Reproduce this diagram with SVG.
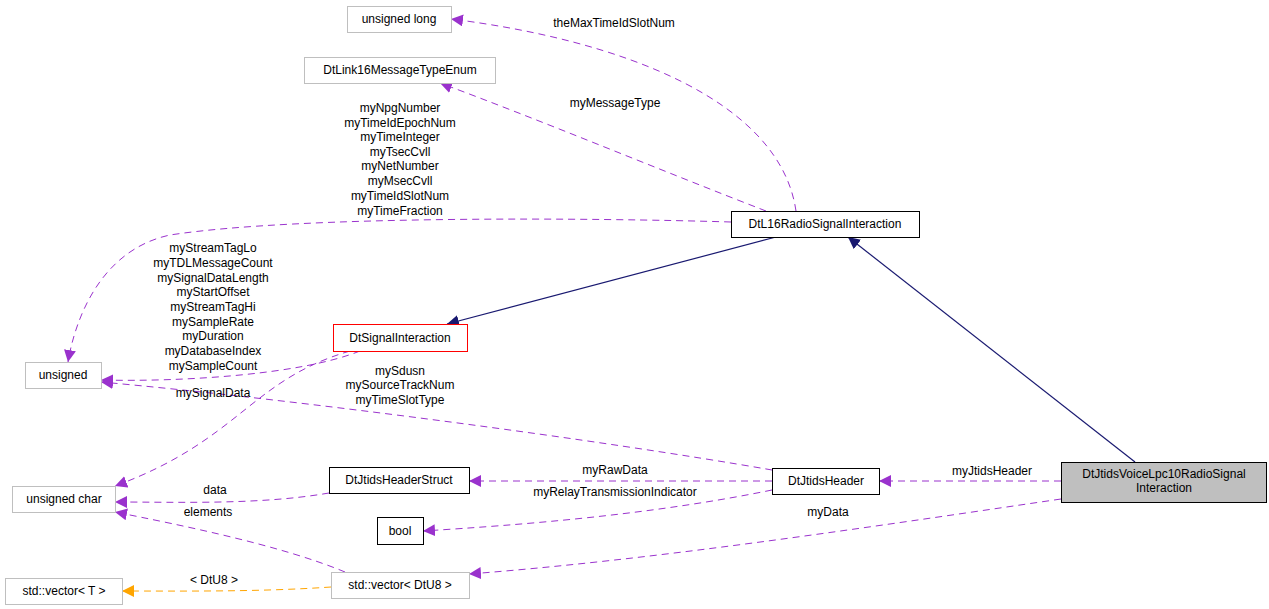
<svg xmlns="http://www.w3.org/2000/svg" width="1269" height="609" viewBox="0 0 1269 609">
<style>
text{font-family:"Liberation Sans",Arial,sans-serif;font-size:12px;fill:#000;text-anchor:middle}
.n{fill:#fff;stroke:#000;stroke-width:1}
.g{fill:#fff;stroke:#bfbfbf;stroke-width:1}
.r{fill:#fff;stroke:#ff0000;stroke-width:1}
.m{fill:#bfbfbf;stroke:#000;stroke-width:1}
.p{fill:none;stroke:#9a32cd;stroke-width:1;stroke-dasharray:7,5}
.o{fill:none;stroke:#ffa500;stroke-width:1;stroke-dasharray:7,5}
.b{fill:none;stroke:#191970;stroke-width:1.2}
</style>
<defs>
<marker id="ap" viewBox="0 0 10 10" refX="10" refY="5" markerWidth="12" markerHeight="12" markerUnits="userSpaceOnUse" orient="auto"><path d="M0,0L10,5L0,10z" fill="#9a32cd"/></marker>
<marker id="ao" viewBox="0 0 10 10" refX="10" refY="5" markerWidth="12" markerHeight="12" markerUnits="userSpaceOnUse" orient="auto"><path d="M0,0L10,5L0,10z" fill="#ffa500"/></marker>
<marker id="ab" viewBox="0 0 10 10" refX="10" refY="5" markerWidth="12" markerHeight="12" markerUnits="userSpaceOnUse" orient="auto"><path d="M0,0L10,5L0,10z" fill="#191970"/></marker>
</defs>
<g id="edges">
<path class="p" d="M796,211 C780,100 620,40 451,19" marker-end="url(#ap)"/>
<path class="p" d="M766,211 C660,170 540,120 440,83" marker-end="url(#ap)"/>
<path class="p" d="M731,222 C600,218 300,215 170,235 C100,250 75,320 68,362" marker-end="url(#ap)"/>
<path class="b" d="M776,237 L447,324" marker-end="url(#ab)"/>
<path class="b" d="M1135,462 L848,237" marker-end="url(#ab)"/>
<path class="p" d="M360,351 C300,375 180,382 101,380" marker-end="url(#ap)"/>
<path class="p" d="M772,470 C600,440 300,400 101,382" marker-end="url(#ap)"/>
<path class="p" d="M350,351 C250,380 240,440 115,486" marker-end="url(#ap)"/>
<path class="p" d="M329,493 C260,505 180,502 115,502" marker-end="url(#ap)"/>
<path class="p" d="M345,572 C280,545 180,525 115,512" marker-end="url(#ap)"/>
<path class="p" d="M772,481 L469,481" marker-end="url(#ap)"/>
<path class="p" d="M772,490 C650,515 520,525 423,531" marker-end="url(#ap)"/>
<path class="p" d="M1061,481 L879,481" marker-end="url(#ap)"/>
<path class="p" d="M1061,499 C850,530 650,560 469,574" marker-end="url(#ap)"/>
<path class="o" d="M331,587 C260,592 180,591 122,591" marker-end="url(#ao)"/>
</g>
<g id="labels">
<text x="614" y="27">theMaxTimeIdSlotNum</text>
<text x="615" y="107">myMessageType</text>
<text x="400" y="112">myNpgNumber</text>
<text x="400" y="127">myTimeIdEpochNum</text>
<text x="400" y="141">myTimeInteger</text>
<text x="400" y="156">myTsecCvll</text>
<text x="400" y="170">myNetNumber</text>
<text x="400" y="185">myMsecCvll</text>
<text x="400" y="200">myTimeIdSlotNum</text>
<text x="400" y="215">myTimeFraction</text>
<text x="213" y="252">myStreamTagLo</text>
<text x="213" y="267">myTDLMessageCount</text>
<text x="213" y="282">mySignalDataLength</text>
<text x="213" y="296">myStartOffset</text>
<text x="213" y="311">myStreamTagHi</text>
<text x="213" y="326">mySampleRate</text>
<text x="213" y="340">myDuration</text>
<text x="213" y="355">myDatabaseIndex</text>
<text x="213" y="370">mySampleCount</text>
<text x="400" y="375">mySdusn</text>
<text x="400" y="389">mySourceTrackNum</text>
<text x="400" y="404">myTimeSlotType</text>
<text x="213" y="397">mySignalData</text>
<text x="215" y="494">data</text>
<text x="208" y="516">elements</text>
<text x="615" y="474">myRawData</text>
<text x="615" y="496">myRelayTransmissionIndicator</text>
<text x="992" y="475">myJtidsHeader</text>
<text x="828" y="516">myData</text>
<text x="214" y="584">&lt; DtU8 &gt;</text>
</g>
<g id="n_ulong"><rect class="g" x="347.5" y="6.5" width="104" height="26"/><text x="399" y="23">unsigned long</text></g>
<g id="n_enum"><rect class="g" x="304.5" y="57.5" width="191" height="26"/><text x="400" y="74">DtLink16MessageTypeEnum</text></g>
<g id="n_l16"><rect class="n" x="731.5" y="211.5" width="188" height="26"/><text x="825" y="228">DtL16RadioSignalInteraction</text></g>
<g id="n_unsigned"><rect class="g" x="25.5" y="362.5" width="76" height="26"/><text x="63" y="379">unsigned</text></g>
<g id="n_signal"><rect class="r" x="333.5" y="324.5" width="134" height="27"/><text x="400" y="342">DtSignalInteraction</text></g>
<g id="n_uchar"><rect class="g" x="12.5" y="486.5" width="103" height="26"/><text x="64" y="503">unsigned char</text></g>
<g id="n_hstruct"><rect class="n" x="329.5" y="467.5" width="140" height="26"/><text x="399" y="484">DtJtidsHeaderStruct</text></g>
<g id="n_header"><rect class="n" x="772.5" y="468.5" width="107" height="26"/><text x="826" y="485">DtJtidsHeader</text></g>
<g id="n_voice"><rect class="m" x="1061.5" y="462.5" width="205" height="40"/><text x="1164" y="478">DtJtidsVoiceLpc10RadioSignal</text><text x="1164" y="492">Interaction</text></g>
<g id="n_bool"><rect class="n" x="377.5" y="517.5" width="46" height="27"/><text x="400" y="535">bool</text></g>
<g id="n_vecu8"><rect class="g" x="331.5" y="572.5" width="138" height="26"/><text x="400" y="589">std::vector&lt; DtU8 &gt;</text></g>
<g id="n_vect"><rect class="g" x="5.5" y="578.5" width="117" height="26"/><text x="64" y="595">std::vector&lt; T &gt;</text></g>
</svg>
